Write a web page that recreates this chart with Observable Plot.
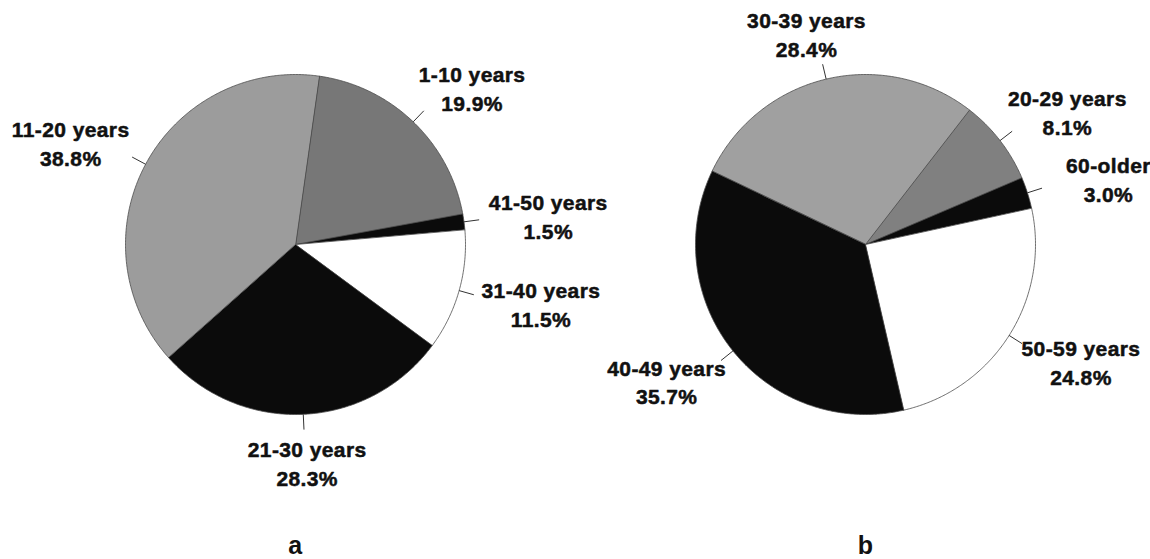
<!DOCTYPE html>
<html>
<head>
<meta charset="utf-8">
<script src="https://cdn.jsdelivr.net/npm/d3@7"></script>
<script src="https://cdn.jsdelivr.net/npm/@observablehq/plot@0.6"></script>
<style>
  body { margin: 0; background: #fff; }
</style>
</head>
<body>
<div id="chart"></div>
<script>
// ---- data ----
const panels = ["a", "b"];

const groupsA = ["1-10 years", "41-50 years", "31-40 years", "21-30 years", "11-20 years"];
const sharesA = [19.9, 1.5, 11.5, 28.3, 38.8];

const groupsB = ["30-39 years", "20-29 years", "60-older", "50-59 years", "40-49 years"];
const sharesB = [28.4, 8.1, 3.0, 24.8, 35.7];

// ---- layout / style ----
const startDeg = {a: 8, b: -64.5};
const shades = {
  "1-10 years": "#777777", "41-50 years": "#0b0b0b", "31-40 years": "#ffffff",
  "21-30 years": "#0b0b0b", "11-20 years": "#9c9c9c",
  "30-39 years": "#a0a0a0", "20-29 years": "#808080", "60-older": "#0b0b0b",
  "50-59 years": "#ffffff", "40-49 years": "#0b0b0b"
};
const colorDomain = [...groupsA, ...groupsB];

function pieOf(panel, groups, shares) {
  const a0 = startDeg[panel] * Math.PI / 180;
  return d3.pie().sort(null).value(d => d.share).startAngle(a0).endAngle(a0 + 2 * Math.PI)(
    groups.map((g, i) => ({panel, group: g, share: shares[i]}))
  );
}
const arcs = [...pieOf("a", groupsA, sharesA), ...pieOf("b", groupsB, sharesB)];

// polygon outline of each slice (unit radius, y up)
const outline = arcs.flatMap(a => {
  const key = a.data.panel + "|" + a.data.group;
  const pts = [{panel: a.data.panel, group: a.data.group, key, x: 0, y: 0}];
  const n = Math.max(2, Math.ceil((a.endAngle - a.startAngle) / (Math.PI / 360)));
  for (let i = 0; i <= n; i++) {
    const t = a.startAngle + (a.endAngle - a.startAngle) * i / n;
    pts.push({panel: a.data.panel, group: a.data.group, key, x: Math.sin(t), y: Math.cos(t)});
  }
  return pts;
});

const labels = arcs.map(a => {
  const m = (a.startAngle + a.endAngle) / 2;
  return {
    panel: a.data.panel,
    text: a.data.group + "\n" + a.data.share.toFixed(1) + "%",
    lx: 1.5 * Math.sin(m), ly: 1.28 * Math.cos(m),
    x1: 1.0 * Math.sin(m), y1: 1.0 * Math.cos(m),
    x2: 1.09 * Math.sin(m), y2: 1.09 * Math.cos(m)
  };
});

const W = 1150, H = 559, pxPerUnit = 170, cy = 244, mLeft = 10;
const halfW = (W - mLeft) / 2 / 2 / pxPerUnit;

const chart = Plot.plot({
  width: W,
  height: H,
  marginTop: 0, marginBottom: 0, marginLeft: mLeft, marginRight: 0,
  style: {fontFamily: "'Liberation Sans', Arial, Helvetica, sans-serif", letterSpacing: "0.4px", background: "#fff"},
  fx: {domain: panels, padding: 0, axis: null},
  x: {domain: [-halfW, halfW], axis: null},
  y: {domain: [-(H - cy) / pxPerUnit, cy / pxPerUnit], axis: null},
  color: {domain: colorDomain, range: colorDomain.map(g => shades[g])},
  marks: [
    Plot.line(outline, {fx: "panel", x: "x", y: "y", z: "key", fill: "group",
      stroke: "#4a4a4a", strokeWidth: 0.8, curve: "linear-closed"}),
    Plot.link(labels, {fx: "panel", x1: "x1", y1: "y1", x2: "x2", y2: "y2",
      stroke: "#333", strokeWidth: 1}),
    Plot.text(labels, {fx: "panel", x: "lx", y: "ly", text: "text",
      fontSize: 21, fontWeight: "bold", lineHeight: 1.38, fill: "#111",
      stroke: "#111", strokeWidth: 0.5}),
    Plot.text(panels, {fx: d => d, text: d => d, frameAnchor: "bottom", dy: -6,
      fontSize: 25, fontWeight: "bold", fill: "#111"})
  ]
});
document.getElementById("chart").appendChild(chart);
</script>
</body>
</html>
